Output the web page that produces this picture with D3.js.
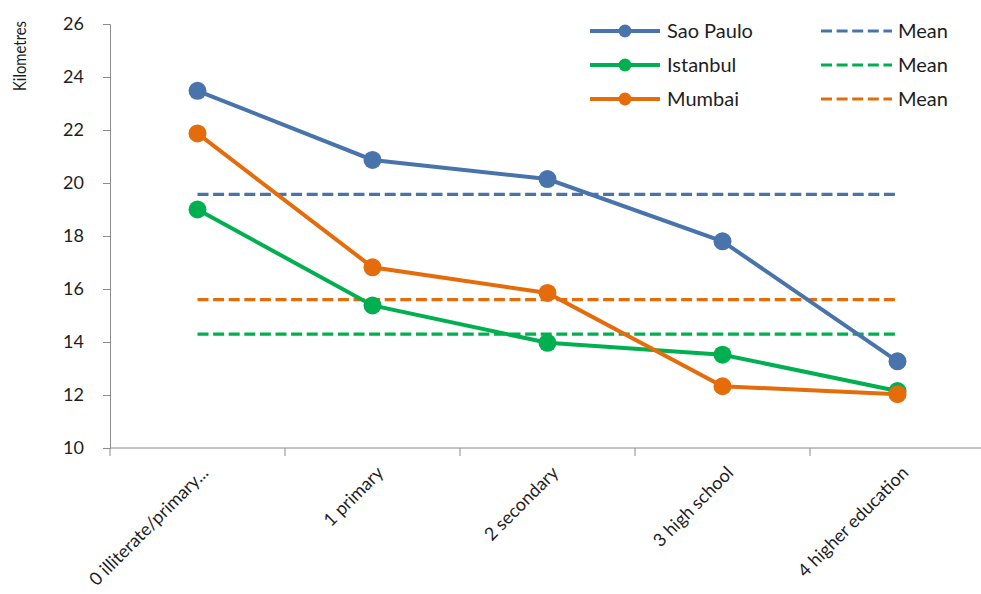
<!DOCTYPE html>
<html>
<head>
<meta charset="utf-8">
<script src="https://cdn.jsdelivr.net/npm/d3@7"></script>
<style>
  body { margin: 0; background: #fff; }
  svg text { font-family: Lato, "Open Sans", sans-serif; fill: #1e1e1e; }
</style>
</head>
<body>
<svg></svg>
<script>
const categories = ["0 illiterate/primary...", "1 primary", "2 secondary", "3 high school", "4 higher education"];
const saoPaulo = [23.48, 20.87, 20.15, 17.8, 13.27];
const istanbul = [19.0, 15.38, 13.97, 13.52, 12.15];
const mumbai = [21.87, 16.82, 15.85, 12.33, 12.03];
const means = [19.57, 14.3, 15.6];
const seriesNames = ["Sao Paulo", "Istanbul", "Mumbai"];
const colors = ["#4874ab", "#00b050", "#e46c0a"];
const yTicks = [10, 12, 14, 16, 18, 20, 22, 24, 26];

const w = 981, h = 594;
const margin = { top: 24, bottom: 146, left: 110, right: -4 };

const svg = d3.select("svg").attr("width", w).attr("height", h);

const series = [saoPaulo, istanbul, mumbai].map((vals, i) => ({
  name: seriesNames[i],
  color: colors[i],
  mean: means[i],
  values: vals.map((v, j) => ({ cat: categories[j], v: v }))
}));

const xScale = d3.scaleBand()
  .domain(categories)
  .range([margin.left, w - margin.right]);
const yScale = d3.scaleLinear()
  .domain([10, 26])
  .range([h - margin.bottom, margin.top]);
const cx = d => xScale(d) + xScale.bandwidth() / 2;

// y axis
const yAxis = svg.append("g")
  .attr("transform", `translate(${margin.left},0)`)
  .call(d3.axisLeft(yScale).tickValues(yTicks).tickSize(7).tickPadding(19));
yAxis.select(".domain").attr("stroke", "#8c8c8c");
yAxis.selectAll(".tick line").attr("stroke", "#8c8c8c");
yAxis.selectAll(".tick text").attr("font-size", 18).style("fill", "#1e1e1e");

// x axis: ticks at band boundaries
const xAxisG = svg.append("g").attr("transform", `translate(0,${yScale(10)})`);
xAxisG.append("line")
  .attr("x1", margin.left).attr("x2", w - margin.right)
  .attr("stroke", "#8c8c8c");
xAxisG.selectAll(".bound")
  .data(categories)
  .enter().append("line")
  .attr("x1", d => xScale(d)).attr("x2", d => xScale(d))
  .attr("y1", 0).attr("y2", 8)
  .attr("stroke", "#8c8c8c");
xAxisG.selectAll(".lab")
  .data(categories)
  .enter().append("text")
  .attr("transform", d => `translate(${cx(d) + 12},${26}) rotate(-45)`)
  .attr("text-anchor", "end")
  .attr("font-size", 18)
  .text(d => d);

// y title
svg.append("text")
  .attr("transform", "translate(26,56) rotate(-90)")
  .attr("text-anchor", "middle")
  .attr("font-size", 17)
  .attr("textLength", 70)
  .attr("lengthAdjust", "spacingAndGlyphs")
  .text("Kilometres");

// mean lines
svg.selectAll(".mean")
  .data(series)
  .enter().append("line")
  .attr("x1", cx(categories[0]))
  .attr("x2", cx(categories[categories.length - 1]))
  .attr("y1", d => yScale(d.mean))
  .attr("y2", d => yScale(d.mean))
  .attr("stroke", d => d.color)
  .attr("stroke-width", 3.2)
  .attr("stroke-dasharray", "11,4.6");

// series lines
const line = d3.line().x(d => cx(d.cat)).y(d => yScale(d.v));
const sg = svg.selectAll(".series")
  .data(series)
  .enter().append("g");
sg.append("path")
  .attr("d", d => line(d.values))
  .attr("fill", "none")
  .attr("stroke", d => d.color)
  .attr("stroke-width", 4);
sg.each(function(s) {
  d3.select(this).selectAll("circle")
    .data(s.values)
    .enter().append("circle")
    .attr("cx", d => cx(d.cat))
    .attr("cy", d => yScale(d.v))
    .attr("r", 9)
    .attr("fill", s.color);
});

// legend
const leg = svg.append("g");
series.forEach((s, i) => {
  const y = 31 + i * 34;
  leg.append("line").attr("x1", 590).attr("x2", 660).attr("y1", y).attr("y2", y)
    .attr("stroke", s.color).attr("stroke-width", 4);
  leg.append("circle").attr("cx", 625).attr("cy", y).attr("r", 6.5).attr("fill", s.color);
  leg.append("text").attr("x", 667).attr("y", y).attr("dy", "0.35em")
    .attr("font-size", 20).text(s.name);
  leg.append("line").attr("x1", 821).attr("x2", 892).attr("y1", y).attr("y2", y)
    .attr("stroke", s.color).attr("stroke-width", 3.2).attr("stroke-dasharray", "11,4.6");
  leg.append("text").attr("x", 898).attr("y", y).attr("dy", "0.35em")
    .attr("font-size", 20).text("Mean");
});
</script>
</body>
</html>
